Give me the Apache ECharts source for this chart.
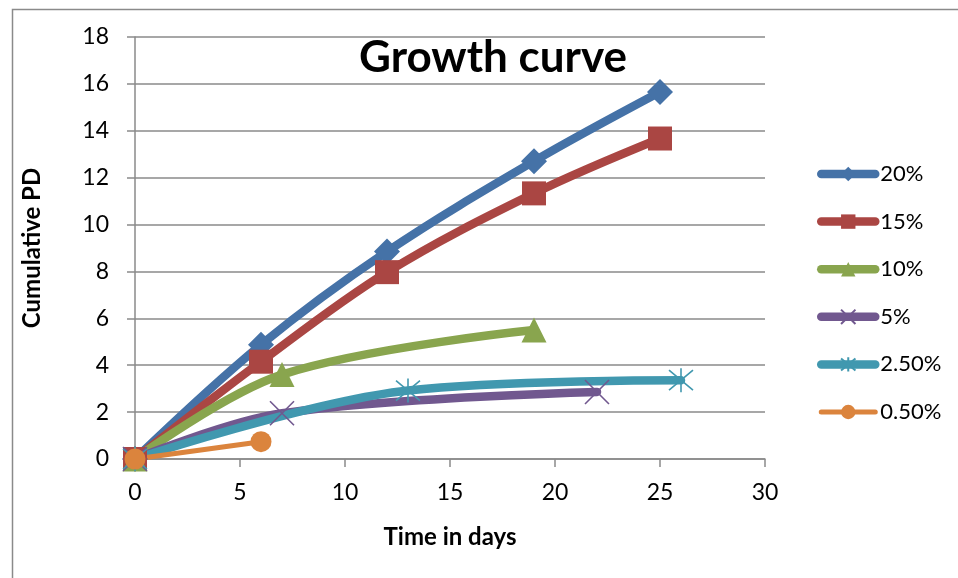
<!DOCTYPE html>
<html>
<head>
<meta charset="utf-8">
<script src="https://cdn.jsdelivr.net/npm/echarts@6/dist/echarts.min.js"></script>
<style>
  html, body { margin: 0; padding: 0; background: #fff; }
  #chart { width: 958px; height: 578px; }
</style>
</head>
<body>
<div id="chart"></div>
<script>
// Cumulative population doublings per serum concentration, [day, PD]
const seriesNames = ['20%', '15%', '10%', '5%', '2.50%', '0.50%'];
const pd20  = [[0, 0], [6, 4.87], [12, 8.85], [19, 12.7], [25, 15.65]];
const pd15  = [[0, 0], [6, 4.15], [12, 7.97], [19, 11.33], [25, 13.67]];
const pd10  = [[0, 0], [7, 3.6], [19, 5.5]];
const pd5   = [[0, 0], [7, 1.95], [22, 2.86]];
const pd2_5 = [[0, 0], [13, 2.92], [26, 3.36]];
const pd0_5 = [[0, 0], [6, 0.74]];
const xTicks = { min: 0, max: 30, interval: 5 };
const yTicks = { min: 0, max: 18, interval: 2 };

const FONT = 'Lato';
const colors = ['#4572A7', '#AA4643', '#89A54E', '#71588F', '#4198AF', '#DB843D'];
const xMark = 'path://M0 0 L20 20 M20 0 L0 20';
const starMark = 'path://M0 0 L20 20 M20 0 L0 20 M10 -2 L10 22';

function lineSeries(name, data, color, symbol, size, width, thinMark) {
  const s = {
    name: name,
    type: 'line',
    data: data,
    smooth: 0.35,
    symbol: symbol,
    symbolSize: size,
    showAllSymbol: true,
    color: color,
    lineStyle: { color: color, width: width, cap: 'round', join: 'round' },
    itemStyle: { color: color },
    emphasis: { disabled: true }
  };
  if (thinMark) {
    s.itemStyle = { color: 'none', borderColor: color, borderWidth: 1.6 };
  }
  return s;
}

const chart = echarts.init(document.getElementById('chart'), null, { renderer: 'canvas' });
chart.setOption({
  animation: false,
  backgroundColor: '#ffffff',
  color: colors,
  title: {
    text: 'Growth curve',
    left: 488,
    top: 31,
    textAlign: 'center',
    textStyle: { fontFamily: FONT, fontWeight: 'bold', fontSize: 44, color: '#000' }
  },
  graphic: [{
    type: 'rect',
    left: 10, top: 7,
    shape: { width: 1000, height: 620 },
    style: { fill: 'none', stroke: '#8a8a8a', lineWidth: 1.5 },
    silent: true
  }],
  grid: { left: 135, right: 193, top: 37, bottom: 119, containLabel: false },
  legend: {
    orient: 'vertical',
    left: 817,
    top: 163,
    padding: 0,
    itemWidth: 54,
    itemHeight: 18,
    itemGap: 25.6,
    lineStyle: { width: 'inherit', cap: 'round' },
    textStyle: { fontFamily: FONT, fontSize: 22, color: '#000', lineHeight: 22 },
    data: seriesNames
  },
  xAxis: {
    type: 'value',
    min: xTicks.min, max: xTicks.max, interval: xTicks.interval,
    name: 'Time in days',
    nameLocation: 'middle',
    nameGap: 66,
    nameTextStyle: { fontFamily: FONT, fontWeight: 'bold', fontSize: 24, color: '#000' },
    axisLine: { show: true, lineStyle: { color: '#8a8a8a', width: 1.5 } },
    axisTick: { show: true, length: 8, lineStyle: { color: '#8a8a8a', width: 1.5 } },
    axisLabel: { fontFamily: FONT, fontSize: 23, color: '#000', margin: 22 },
    splitLine: { show: false }
  },
  yAxis: {
    type: 'value',
    min: yTicks.min, max: yTicks.max, interval: yTicks.interval,
    name: 'Cumulative PD',
    nameLocation: 'middle',
    nameGap: 91,
    nameTextStyle: { fontFamily: FONT, fontWeight: 'bold', fontSize: 24, color: '#000' },
    axisLine: { show: true, lineStyle: { color: '#8a8a8a', width: 1.5 } },
    axisTick: { show: true, length: 8, lineStyle: { color: '#8a8a8a', width: 1.5 } },
    axisLabel: { fontFamily: FONT, fontSize: 23, color: '#000', margin: 26 },
    splitLine: { show: true, lineStyle: { color: '#8a8a8a', width: 1.5 } }
  },
  series: [
    lineSeries(seriesNames[0], pd20, colors[0], 'diamond', 26, 8.5),
    lineSeries(seriesNames[1], pd15, colors[1], 'rect', 24, 8.5),
    lineSeries(seriesNames[2], pd10, colors[2], 'triangle', 25, 8.5),
    lineSeries(seriesNames[3], pd5, colors[3], xMark, 24, 8.5, true),
    lineSeries(seriesNames[4], pd2_5, colors[4], starMark, 24, 8.5, true),
    lineSeries(seriesNames[5], pd0_5, colors[5], 'circle', 21, 5)
  ]
});
</script>
</body>
</html>
